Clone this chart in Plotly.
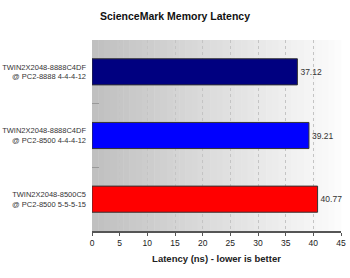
import plotly.graph_objects as go

categories = ["TWIN2X2048-8888C4DF<br>@ PC2-8888 4-4-4-12",
              "TWIN2X2048-8888C4DF<br>@ PC2-8500 4-4-4-12",
              "TWIN2X2048-8500C5<br>@ PC2-8500 5-5-5-15"]
values = [37.12, 39.21, 40.77]
colors = ["#000080", "#0000FF", "#FF0000"]
x_ticks = [0, 5, 10, 15, 20, 25, 30, 35, 40, 45]

fig = go.Figure()
fig.add_trace(go.Bar(
    y=categories, x=values, orientation="h",
    marker=dict(color=colors, line=dict(color="#333333", width=1)),
    width=0.41,
    text=[f"{v:.2f}" for v in values], textposition="outside",
    textfont=dict(family="Arial, Liberation Sans", size=8.5, color="#333333"),
    cliponaxis=False,
))

# gradient background
n = 40
shapes = []
for i in range(n):
    t = i / (n - 1)
    g = int(192 + (252 - 192) * t)
    shapes.append(dict(type="rect", xref="x domain", yref="y domain",
                       x0=i / n, x1=(i + 1) / n + 0.002, y0=0, y1=1,
                       fillcolor=f"rgb({g},{g},{g})", line=dict(width=0), layer="below"))

fig.update_layout(
    width=350, height=278,
    margin=dict(l=92, r=9, t=40, b=47, autoexpand=False),
    paper_bgcolor="white", plot_bgcolor="white",
    shapes=shapes,
    showlegend=False,
    title=dict(text="<b>ScienceMark Memory Latency</b>", x=0.5, xanchor="center",
               y=0.94, yanchor="middle",
               font=dict(family="Arial, Liberation Sans", size=10.5, color="#111111")),
    xaxis=dict(range=[0, 45], tickvals=x_ticks, showgrid=True,
               gridcolor="#c4c4c4", griddash="dot", gridwidth=1,
               showline=True, linecolor="#555555", linewidth=2,
               ticks="outside", ticklen=3, tickcolor="#555555",
               tickfont=dict(family="Arial, Liberation Sans", size=8.5, color="#222222"),
               title=dict(text="<b>Latency (ns) - lower is better</b>", standoff=8,
                          font=dict(family="Arial, Liberation Sans", size=9.5, color="#222222")),
               zeroline=False, layer="below traces", automargin=False),
    yaxis=dict(autorange="reversed", tickson="boundaries", ticks="inside",
               ticklen=7, tickcolor="#999999", showline=False, showgrid=False,
               tickfont=dict(family="Arial, Liberation Sans", size=7.5, color="#333333"),
               ticklabelstandoff=5, automargin=False),
    bargap=0.59,
)

fig.write_html("out.html")
